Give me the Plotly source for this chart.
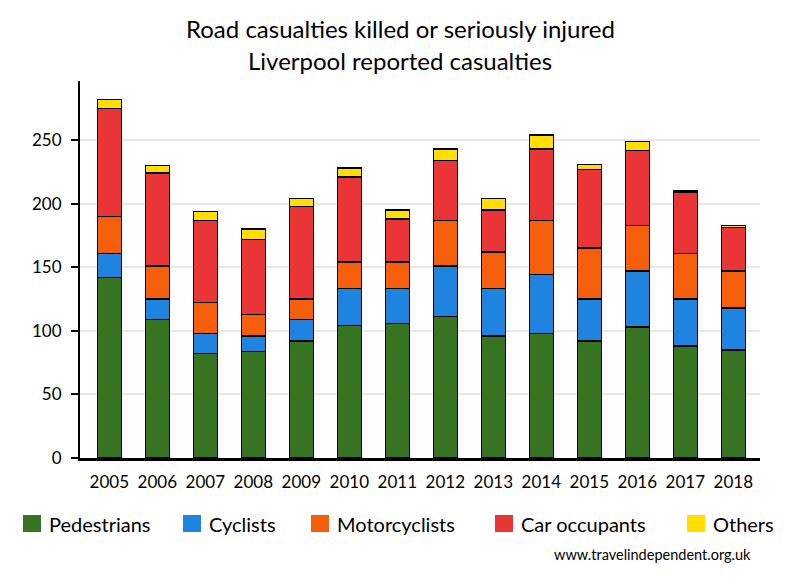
import plotly.graph_objects as go

years = ["2005", "2006", "2007", "2008", "2009", "2010", "2011",
         "2012", "2013", "2014", "2015", "2016", "2017", "2018"]
pedestrians = [142, 109, 82, 84, 92, 104, 106, 111, 96, 98, 92, 103, 88, 85]
cyclists = [19, 16, 16, 12, 17, 29, 27, 40, 37, 46, 33, 44, 37, 33]
motorcyclists = [29, 26, 24, 17, 16, 21, 21, 36, 29, 43, 40, 36, 36, 29]
car_occupants = [85, 73, 65, 59, 73, 67, 34, 47, 33, 56, 62, 59, 48, 34]
others = [7, 6, 7, 8, 6, 7, 7, 9, 9, 11, 4, 7, 1, 2]

series_names = ["Pedestrians", "Cyclists", "Motorcyclists", "Car occupants", "Others"]
series_values = [pedestrians, cyclists, motorcyclists, car_occupants, others]
series_colors = ["#367422", "#1E84E0", "#F55F0C", "#E93535", "#FFDE00"]
y_ticks = [0, 50, 100, 150, 200, 250]

FONT = "Lato"
W, H = 800, 580
L, R, T, B = 80, 760, 81, 458  # plot area in pixels


def px(x):
    return (x - L) / (R - L)


def py(y):
    return (B - y) / (B - T)


fig = go.Figure()
for name, vals, col in zip(series_names, series_values, series_colors):
    fig.add_trace(go.Bar(
        x=years, y=vals, name=name,
        marker=dict(color=col, line=dict(color="black", width=1.3)),
        showlegend=False,
    ))

shapes = []
annotations = [
    dict(text="Road casualties killed or seriously injured", x=px(400), y=py(28),
         xref="paper", yref="paper", showarrow=False, xanchor="center", yanchor="middle",
         font=dict(family=FONT, size=24, color="black")),
    dict(text="Liverpool reported casualties", x=px(400), y=py(60),
         xref="paper", yref="paper", showarrow=False, xanchor="center", yanchor="middle",
         font=dict(family=FONT, size=24, color="black")),
    dict(text="www.travelindependent.org.uk", x=px(753), y=py(554),
         xref="paper", yref="paper", showarrow=False, xanchor="right", yanchor="middle",
         font=dict(family=FONT, size=14.5, color="black")),
]

leg_x = [23, 183, 311, 495, 687]
for lx, name, col in zip(leg_x, series_names, series_colors):
    shapes.append(dict(type="rect", xref="paper", yref="paper",
                       x0=px(lx), x1=px(lx + 18), y0=py(532), y1=py(515),
                       fillcolor=col, line=dict(width=0)))
    annotations.append(dict(text=name, x=px(lx + 24), y=py(524), xref="paper", yref="paper",
                            showarrow=False, xanchor="left", yanchor="middle",
                            font=dict(family=FONT, size=20, color="black")))

fig.update_layout(
    barmode="stack",
    bargap=0.5,
    width=W, height=H,
    margin=dict(l=L, r=W - R, t=T, b=H - B, pad=0),
    plot_bgcolor="white",
    paper_bgcolor="white",
    font=dict(family=FONT, size=17, color="black"),
    shapes=shapes,
    annotations=annotations,
    xaxis=dict(
        type="category",
        range=[-0.61, 13.556],
        showline=True, linecolor="black", linewidth=2.5,
        ticks="outside", ticklen=7, tickcolor="rgba(0,0,0,0)",
        showgrid=False, zeroline=False,
        tickfont=dict(family=FONT, size=17, color="black"),
    ),
    yaxis=dict(
        range=[0, 296.4],
        tickvals=y_ticks,
        showline=True, linecolor="black", linewidth=2,
        ticks="outside", ticklen=7, tickwidth=2, tickcolor="black",
        ticklabelstandoff=6,
        showgrid=True, gridcolor="#E8E8E8", gridwidth=2,
        zeroline=False,
        tickfont=dict(family=FONT, size=17, color="black"),
    ),
)

fig.write_html(
    "out.html",
    config={"displayModeBar": False},
    post_script="document.body.style.margin='0';document.body.style.padding='0';",
)
